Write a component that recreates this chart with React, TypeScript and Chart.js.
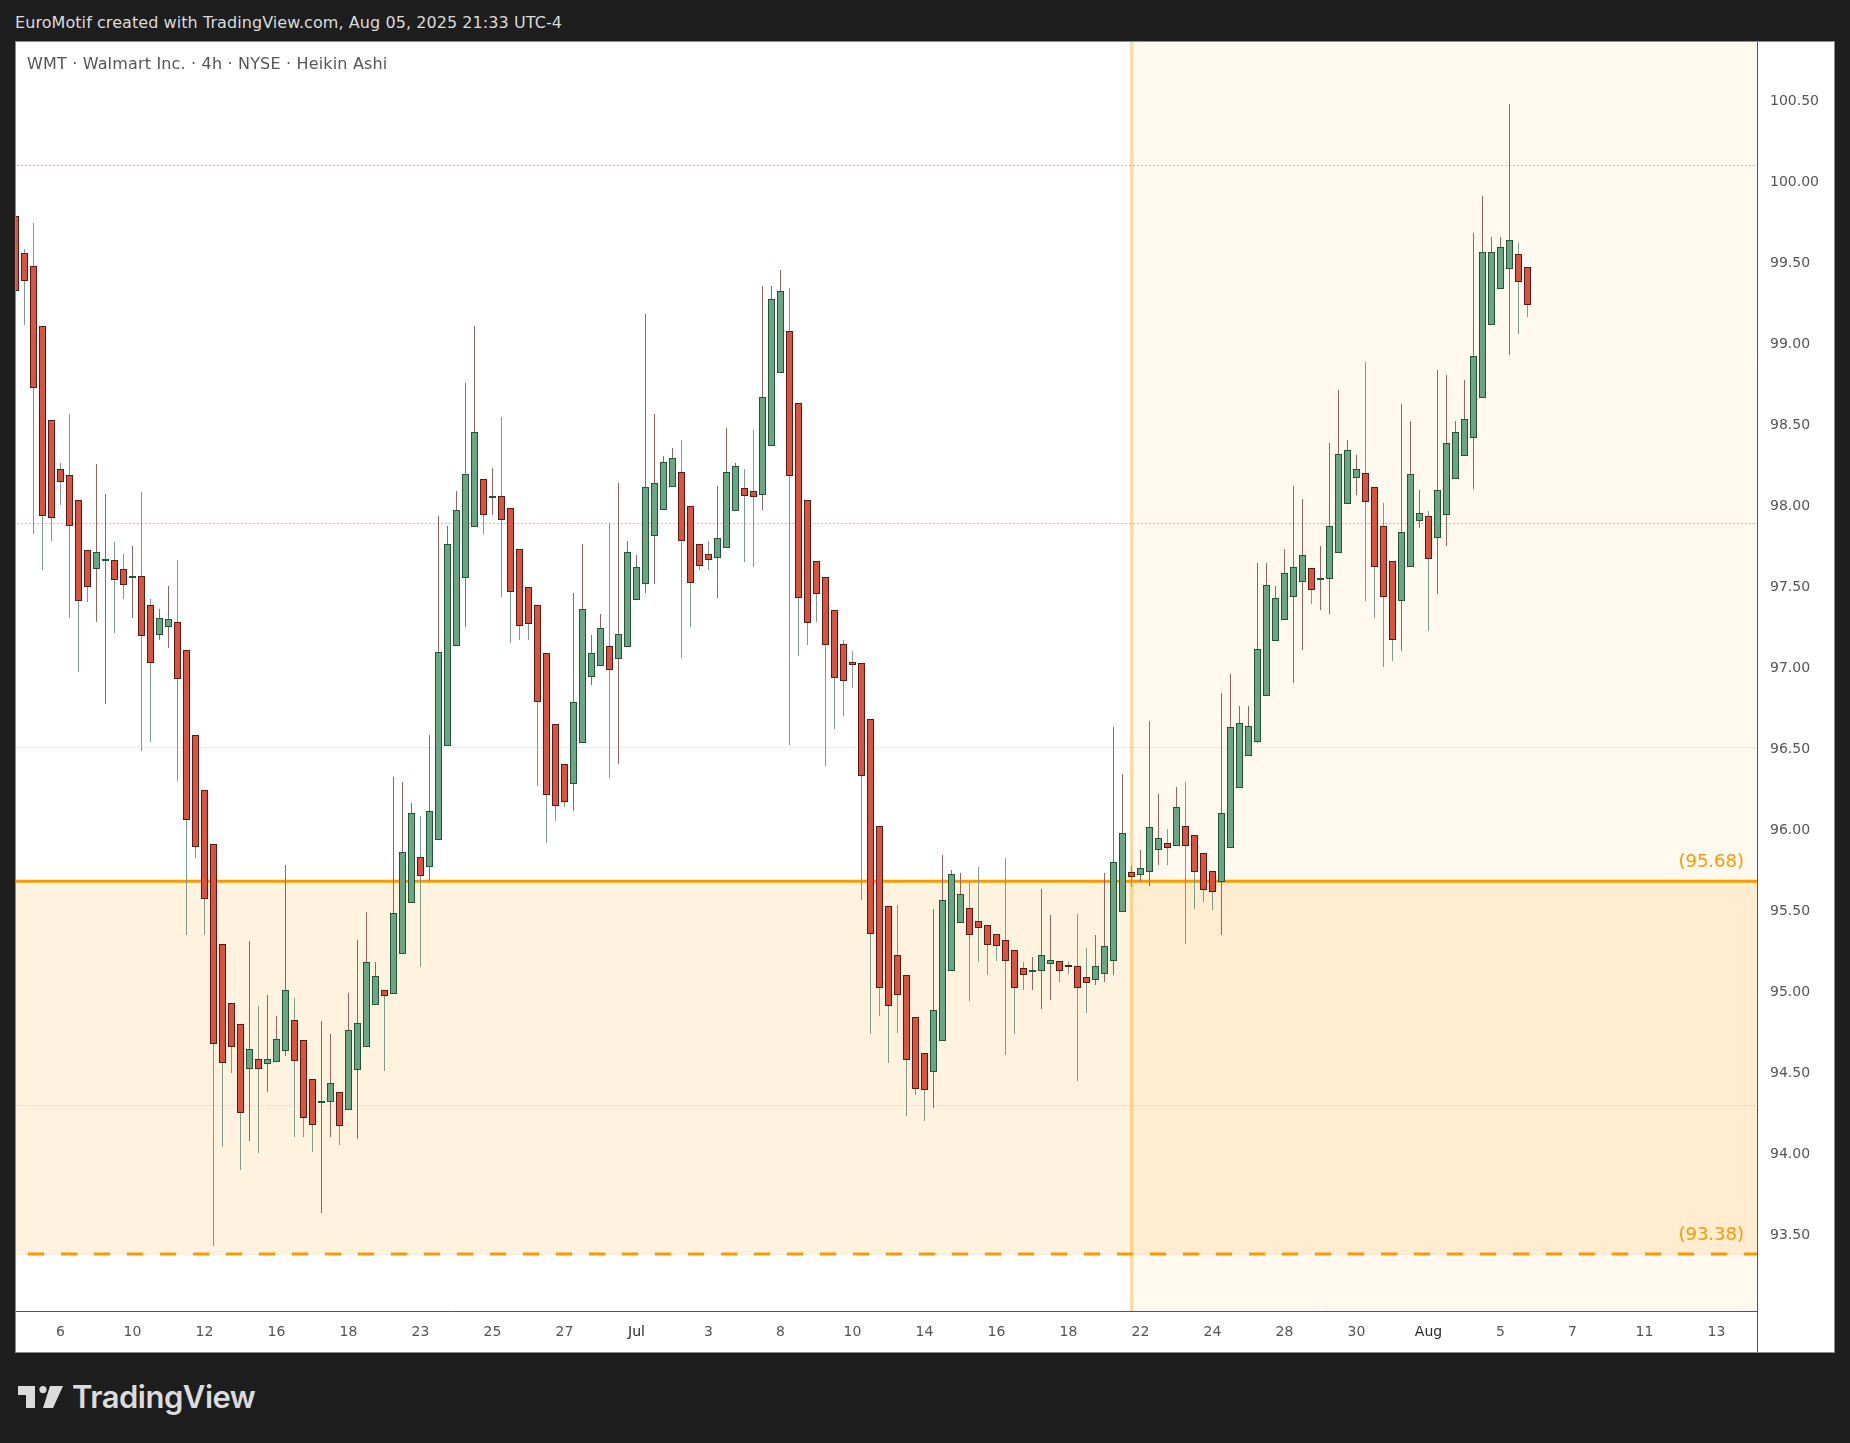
import { useEffect, useRef } from "react";
import { Chart, registerables } from "chart.js";

Chart.register(...registerables);

const FONT = '"DejaVu Sans", sans-serif';

// heikin ashi candles, WMT 4h
const opens = [
  99.78, 99.554, 99.474, 99.102, 98.524, 98.222, 98.185, 98.031, 97.722, 97.611,
  97.662, 97.661, 97.605, 97.557, 97.562, 97.383, 97.204, 97.253, 97.278, 97.105,
  96.581, 96.242, 95.909, 95.292, 94.928, 94.798, 94.527, 94.582, 94.557, 94.57,
  94.638, 94.823, 94.699, 94.459, 94.318, 94.323, 94.379, 94.274, 94.52, 94.662,
  94.921, 95.008, 94.989, 95.236, 95.551, 95.828, 95.773, 95.939, 96.519, 97.135,
  97.554, 97.87, 98.16, 98.05, 98.055, 97.981, 97.728, 97.494, 97.384, 97.087,
  96.648, 96.401, 96.284, 96.537, 96.944, 97.013, 97.131, 97.055, 97.131, 97.421,
  97.518, 97.814, 97.974, 98.117, 98.204, 97.994, 97.758, 97.697, 97.678, 97.741,
  97.968, 98.104, 98.085, 98.068, 98.371, 98.82, 99.073, 98.628, 98.031, 97.654,
  97.554, 97.351, 97.141, 97.03, 97.025, 96.678, 96.019, 95.526, 95.224, 95.099,
  94.841, 94.617, 94.509, 94.7, 95.132, 95.427, 95.512, 95.432, 95.408, 95.351,
  95.316, 95.255, 95.144, 95.122, 95.132, 95.174, 95.186, 95.16, 95.155, 95.087,
  95.075, 95.113, 95.193, 95.495, 95.736, 95.722, 95.741, 95.878, 95.913, 95.902,
  96.019, 95.963, 95.852, 95.741, 95.68, 95.89, 96.26, 96.458, 96.544, 96.828,
  97.167, 97.297, 97.438, 97.531, 97.611, 97.544, 97.549, 97.71, 98.012, 98.173,
  98.197, 98.109, 97.868, 97.654, 97.412, 97.623, 97.908, 97.932, 97.802, 97.944,
  98.166, 98.308, 98.419, 98.666, 99.117, 99.339, 99.462, 99.547, 99.467,
];
const closes = [
  99.326, 99.388, 98.728, 97.938, 97.926, 98.148, 97.876, 97.414, 97.5, 97.71,
  97.667, 97.543, 97.512, 97.562, 97.198, 97.031, 97.303, 97.297, 96.933, 96.063,
  95.896, 95.575, 94.681, 94.564, 94.662, 94.255, 94.644, 94.527, 94.582, 94.706,
  95.008, 94.576, 94.224, 94.181, 94.323, 94.434, 94.175, 94.761, 94.804, 95.181,
  95.094, 94.977, 95.483, 95.859, 96.1, 95.717, 96.112, 97.093, 97.759, 97.968,
  98.191, 98.451, 97.944, 98.055, 97.913, 97.47, 97.26, 97.271, 96.791, 96.217,
  96.148, 96.174, 96.784, 97.358, 97.087, 97.241, 96.987, 97.204, 97.71, 97.617,
  98.111, 98.134, 98.264, 98.29, 97.784, 97.524, 97.63, 97.665, 97.795, 98.204,
  98.24, 98.061, 98.055, 98.666, 99.271, 99.32, 98.184, 97.431, 97.277, 97.457,
  97.141, 96.938, 96.921, 97.016, 96.334, 95.358, 95.026, 94.915, 94.983, 94.582,
  94.402, 94.395, 94.884, 95.561, 95.722, 95.599, 95.354, 95.392, 95.292, 95.285,
  95.193, 95.026, 95.106, 95.127, 95.224, 95.193, 95.132, 95.155, 95.026, 95.056,
  95.155, 95.278, 95.797, 95.975, 95.708, 95.76, 96.012, 95.944, 95.889, 96.135,
  95.902, 95.743, 95.63, 95.618, 96.1, 96.63, 96.655, 96.636, 97.111, 97.506,
  97.426, 97.58, 97.617, 97.691, 97.481, 97.549, 97.868, 98.314, 98.338, 98.22,
  98.024, 97.623, 97.438, 97.174, 97.833, 98.189, 97.949, 97.672, 98.092, 98.38,
  98.449, 98.529, 98.919, 99.561, 99.561, 99.592, 99.634, 99.382, 99.24,
];
const highs = [
  99.78, 99.579, 99.739, 99.102, 98.524, 98.259, 98.563, 98.031, 97.722, 98.255,
  98.07, 97.773, 97.699, 97.749, 98.082, 97.422, 97.358, 97.502, 97.662, 97.105,
  96.581, 96.242, 95.909, 95.292, 94.928, 94.798, 95.312, 94.911, 94.979, 94.849,
  95.781, 94.958, 94.699, 94.459, 94.817, 94.738, 94.379, 94.989, 95.318, 95.491,
  95.182, 95.008, 96.324, 96.293, 96.163, 96.083, 96.583, 97.934, 97.872, 98.091,
  98.754, 99.106, 98.16, 98.23, 98.543, 97.981, 97.728, 97.494, 97.384, 97.087,
  96.648, 96.401, 97.459, 97.76, 97.2, 97.329, 97.89, 98.137, 97.78, 97.693,
  99.18, 98.563, 98.303, 98.353, 98.403, 97.994, 97.758, 97.78, 98.119, 98.477,
  98.26, 98.224, 98.464, 99.353, 99.353, 99.451, 99.34, 98.628, 98.031, 97.654,
  97.554, 97.351, 97.167, 97.099, 97.025, 96.678, 96.019, 95.526, 95.533, 95.099,
  94.841, 94.617, 95.509, 95.843, 95.751, 95.731, 95.682, 95.769, 95.408, 95.351,
  95.824, 95.255, 95.181, 95.212, 95.633, 95.472, 95.186, 95.181, 95.479, 95.269,
  95.349, 95.731, 96.631, 96.345, 95.781, 95.873, 96.669, 96.218, 96.003, 96.263,
  96.293, 95.963, 95.852, 95.741, 96.839, 96.959, 96.762, 96.762, 97.644, 97.644,
  97.502, 97.728, 98.119, 98.039, 97.611, 97.748, 98.383, 98.711, 98.402, 98.31,
  98.881, 98.109, 98.015, 97.654, 98.624, 98.517, 98.095, 97.965, 98.834, 98.804,
  98.517, 98.773, 99.679, 99.908, 99.656, 99.656, 100.475, 99.618, 99.467,
];
const lows = [
  99.248, 99.114, 97.825, 97.603, 97.781, 98.004, 97.306, 96.973, 97.405, 97.282,
  96.776, 97.214, 97.422, 97.306, 96.486, 96.541, 97.171, 97.121, 96.301, 95.351,
  95.826, 95.351, 93.432, 94.043, 94.499, 93.901, 94.08, 94.006, 94.382, 94.57,
  94.604, 94.105, 94.105, 94.012, 93.636, 94.105, 94.055, 94.274, 94.092, 94.662,
  94.921, 94.512, 94.989, 95.236, 95.551, 95.153, 95.684, 95.939, 96.519, 97.135,
  97.251, 97.87, 97.825, 97.942, 97.435, 97.152, 97.171, 97.171, 96.269, 95.918,
  96.055, 96.141, 96.115, 96.537, 96.892, 97.013, 96.319, 96.405, 97.131, 97.421,
  97.461, 97.516, 97.974, 98.117, 97.059, 97.251, 97.602, 97.602, 97.425, 97.741,
  97.968, 97.652, 97.622, 97.972, 98.371, 98.82, 96.522, 97.072, 97.135, 97.282,
  96.392, 96.617, 96.702, 96.874, 95.562, 94.74, 94.846, 94.561, 94.747, 94.235,
  94.362, 94.204, 94.284, 94.7, 95.132, 95.427, 94.943, 95.184, 95.103, 95.191,
  94.61, 94.74, 95.007, 95.012, 94.893, 94.95, 95.061, 95.111, 94.445, 94.87,
  95.042, 95.061, 95.103, 95.495, 95.642, 95.684, 95.654, 95.783, 95.783, 95.902,
  95.295, 95.512, 95.554, 95.505, 95.351, 95.89, 96.26, 96.458, 96.535, 96.828,
  97.167, 97.297, 96.905, 97.107, 97.393, 97.356, 97.33, 97.71, 98.012, 98.065,
  97.41, 97.306, 97.004, 97.042, 97.103, 97.623, 97.861, 97.226, 97.455, 97.751,
  98.166, 98.308, 98.102, 98.666, 99.117, 99.339, 98.924, 99.058, 99.164,
];

const xTickLabels = ["6", "10", "12", "16", "18", "23", "25", "27", "Jul", "3", "8", "10", "14", "16", "18", "22", "24", "28", "30", "Aug", "5", "7", "11", "13"];
const xTickBars = [5, 13, 21, 29, 37, 45, 53, 61, 69, 77, 85, 93, 101, 109, 117, 125, 133, 141, 149, 157, 165, 173, 181, 189];
const priceTicks = [93.5, 94, 94.5, 95, 95.5, 96, 96.5, 97, 97.5, 98, 98.5, 99, 99.5, 100, 100.5];

const zoneTop = 95.68;
const zoneBottom = 93.38;
const zoneStartBar = 124;
const strongLevels = [100.1, 97.89];
const faintLevels = [96.51, 94.3];

const ORANGE = "#ff9800";
const UP_FILL = "#6ba583";
const UP_LINE = "#225437";
const DOWN_FILL = "#d75442";
const DOWN_LINE = "#5b1a13";
const UP_WICK = "#7a9e8a";
const DOWN_WICK = "#96635e";

const isUp = (i: number) => closes[i] >= opens[i];
const bars = opens.map((_, i) => i);

// zones and levels go under the candles, axis line through the time scale on top
const zonesPlugin = {
  id: "zones",
  beforeDatasetsDraw(chart: any) {
    const { ctx, chartArea: a, scales } = chart;
    const y = scales.y;
    const top = y.getPixelForValue(zoneTop);
    const bottom = y.getPixelForValue(zoneBottom);
    const startX = scales.x.getPixelForValue(zoneStartBar);
    ctx.save();
    ctx.fillStyle = "rgba(255,152,0,0.13)";
    ctx.fillRect(a.left, top, a.right - a.left, bottom - top);
    ctx.fillStyle = "rgba(255,152,0,0.06)";
    ctx.fillRect(startX, a.top, a.right - startX, a.bottom - a.top);
    ctx.fillStyle = "rgba(255,152,0,0.35)";
    ctx.fillRect(startX - 1.5, a.top, 3, a.bottom - a.top);

    ctx.lineWidth = 1;
    ctx.setLineDash([2, 2]);
    const level = (v: number, color: string) => {
      const py = Math.round(y.getPixelForValue(v)) + 0.5;
      ctx.strokeStyle = color;
      ctx.beginPath();
      ctx.moveTo(a.left + 1, py);
      ctx.lineTo(a.right, py);
      ctx.stroke();
    };
    strongLevels.forEach((v) => level(v, "rgba(242,54,69,0.42)"));
    faintLevels.forEach((v) => level(v, "rgba(242,54,69,0.2)"));
    level(zoneBottom, "rgba(255,152,0,0.3)");

    ctx.strokeStyle = ORANGE;
    ctx.lineWidth = 3;
    ctx.setLineDash([]);
    ctx.beginPath();
    ctx.moveTo(a.left, top);
    ctx.lineTo(a.right, top);
    ctx.stroke();
    ctx.setLineDash([16, 17]);
    ctx.lineDashOffset = -12;
    ctx.beginPath();
    ctx.moveTo(a.left, bottom);
    ctx.lineTo(a.right, bottom);
    ctx.stroke();
    ctx.setLineDash([]);

    ctx.fillStyle = ORANGE;
    ctx.font = `18px ${FONT}`;
    ctx.textAlign = "right";
    ctx.textBaseline = "middle";
    ctx.fillText(`(${zoneTop.toFixed(2)})`, a.right - 13, top - 18.5);
    ctx.fillText(`(${zoneBottom.toFixed(2)})`, a.right - 13, bottom - 18.5);
    ctx.restore();
  },
  beforeDraw(chart: any) {
    // price labels sit 1px lower in the reference
    chart.scales.y.getLabelItems().forEach((it: any) => {
      it.options.translation[1] += 1;
    });
  },
  afterDraw(chart: any) {
    const { ctx, chartArea: a, height } = chart;
    ctx.save();
    ctx.fillStyle = "#50535e";
    ctx.fillRect(a.right, a.bottom, 1, height - a.bottom);
    ctx.restore();
  },
};

// snap the bars to whole pixels, the reference candles are crisp
const snapPlugin = {
  id: "snap",
  afterDatasetsUpdate(chart: any) {
    chart.getDatasetMeta(1).data.forEach((el: any) => {
      const t = Math.floor(Math.min(el.y, el.base));
      let b = Math.ceil(Math.max(el.y, el.base));
      if (b - t < 1) b = t + 1;
      el.y = t;
      el.base = b;
    });
    chart.getDatasetMeta(0).data.forEach((el: any) => {
      el.y = Math.round(el.y);
      el.base = Math.round(el.base);
    });
  },
};

// chart.js keeps room for half a tick label at the ends of an axis, we don't want that
const noPadding = (s: any) => {
  s.paddingTop = 0;
  s.paddingBottom = 0;
  s.paddingLeft = 0;
  s.paddingRight = 0;
};

function CandleChart() {
  const canvasRef = useRef<HTMLCanvasElement>(null);

  useEffect(() => {
    const chart = new Chart(canvasRef.current as any, {
      type: "bar",
      data: {
        datasets: [
          {
            label: "wick",
            data: bars.map((i) => ({ x: i, y: [lows[i], highs[i]] })) as any,
            backgroundColor: bars.map((i) => (isUp(i) ? DOWN_WICK : UP_WICK)),
            barThickness: 1,
            grouped: false,
            inflateAmount: 0,
            order: 2,
          },
          {
            label: "body",
            data: bars.map((i) => ({ x: i, y: [opens[i], closes[i]] })) as any,
            backgroundColor: bars.map((i) => (isUp(i) ? UP_FILL : DOWN_FILL)),
            borderColor: bars.map((i) => (isUp(i) ? UP_LINE : DOWN_LINE)),
            borderWidth: 1,
            borderSkipped: false,
            barThickness: 7,
            grouped: false,
            inflateAmount: 0,
            order: 1,
          },
        ],
      },
      options: {
        animation: false,
        responsive: false,
        devicePixelRatio: 1,
        layout: { padding: 0 },
        plugins: { legend: { display: false }, tooltip: { enabled: false } },
        scales: {
          x: {
            type: "linear",
            offset: false,
            min: 0.5 / 9,
            max: 0.5 / 9 + 1741 / 9,
            grid: { display: false, drawTicks: false },
            border: { color: "#50535e" },
            afterBuildTicks: (s: any) => {
              s.ticks = xTickBars.map((v) => ({ value: v }));
            },
            afterFit: (s: any) => {
              s.height = 41;
              noPadding(s);
            },
            ticks: {
              autoSkip: false,
              maxRotation: 0,
              padding: 13,
              color: (c: any) => (isNaN(Number(xTickLabels[c.index])) ? "#2a2a2a" : "#555"),
              font: { family: FONT, size: 14 },
              callback: (_v: any, i: number) => xTickLabels[i],
            },
          },
          y: {
            position: "right",
            min: 93.029,
            max: 100.858,
            grid: { display: false, drawTicks: false },
            border: { color: "#50535e" },
            afterBuildTicks: (s: any) => {
              s.ticks = priceTicks.map((v) => ({ value: v }));
            },
            afterFit: (s: any) => {
              s.width = 77;
              noPadding(s);
            },
            ticks: {
              padding: 13,
              color: "#555",
              font: { family: FONT, size: 14 },
              callback: (v: any) => Number(v).toFixed(2),
            },
          },
        },
      },
      plugins: [zonesPlugin, snapPlugin],
    });
    return () => chart.destroy();
  }, []);

  return <canvas ref={canvasRef} width={1818} height={1310} style={{ display: "block" }} />;
}

export default function App() {
  useEffect(() => {
    document.body.style.margin = "0";
  }, []);

  return (
    <div style={{ position: "relative", width: 1850, height: 1443, background: "#1e1e1e", overflow: "hidden", fontFamily: FONT }}>
      <div style={{ position: "absolute", left: 15, top: 12, fontSize: 16, letterSpacing: 0.07, lineHeight: "22px", color: "#dbdbdb", whiteSpace: "nowrap" }}>
        EuroMotif created with TradingView.com, Aug 05, 2025 21:33 UTC-4
      </div>
      <div style={{ position: "absolute", left: 15, top: 41, width: 1820, height: 1312, boxSizing: "border-box", border: "1px solid #8a8a8a", background: "#fff" }}>
        <CandleChart />
        <div style={{ position: "absolute", left: 11, top: 11, fontSize: 16, letterSpacing: 0.17, lineHeight: "22px", color: "#555", whiteSpace: "nowrap" }}>
          WMT · Walmart Inc. · 4h · NYSE · Heikin Ashi
        </div>
      </div>
      <svg style={{ position: "absolute", left: 18, top: 1386 }} width={46} height={23}>
        <path d="M0 0H17V22H8V9H0Z" fill="#dbdbdb" />
        <circle cx={25} cy={3.6} r={3.6} fill="#dbdbdb" />
        <path d="M32 0H45L35 22H25Z" fill="#dbdbdb" />
      </svg>
      <div style={{ position: "absolute", left: 72, top: 1379, fontFamily: "Inter, sans-serif", fontWeight: 600, fontSize: 31, lineHeight: "36px", letterSpacing: -0.5, color: "#dbdbdb", whiteSpace: "nowrap" }}>
        TradingView
      </div>
    </div>
  );
}
